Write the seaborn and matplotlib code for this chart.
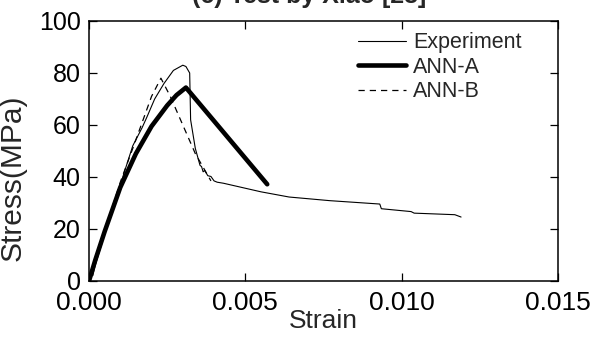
import matplotlib
matplotlib.use('Agg')
import matplotlib.pyplot as plt
import seaborn as sns

# values
exp_strain = [0.0, 0.00008, 0.00012, 0.0002, 0.0005, 0.001, 0.0014, 0.0017, 0.00185,
              0.0021, 0.0024, 0.0027, 0.0030, 0.0031, 0.00322, 0.00325, 0.0034,
              0.00355, 0.0036, 0.00365, 0.0037, 0.0038, 0.0039, 0.0040, 0.0041,
              0.0043, 0.0055, 0.0064, 0.0077, 0.0093, 0.00935, 0.0103, 0.0104,
              0.0117, 0.0119]
exp_stress = [0.0, 3.0, 2.0, 6.0, 18.0, 37.0, 52.0, 59.0, 63.0,
              70.0, 76.0, 81.0, 83.0, 82.5, 80.0, 62.0, 51.0,
              44.5, 44.0, 42.0, 42.5, 40.5, 40.2, 38.5, 38.0,
              37.6, 34.3, 32.3, 30.9, 29.6, 27.8, 26.7, 26.1,
              25.5, 24.6]

anna_strain = [0.0, 0.0002, 0.0005, 0.001, 0.0015, 0.002, 0.0025, 0.0028, 0.0031, 0.0057]
anna_stress = [0.0, 8.0, 19.0, 36.0, 49.0, 59.5, 67.5, 71.5, 74.4, 37.2]

annb_strain = [0.0, 0.0005, 0.001, 0.0014, 0.0017, 0.002, 0.0023, 0.0026, 0.003, 0.0034, 0.0039]
annb_stress = [0.0, 19.0, 38.0, 51.0, 61.0, 71.0, 78.0, 71.0, 60.0, 49.0, 38.5]

series_names = ['Experiment', 'ANN-A', 'ANN-B']
x_ticks = [0.000, 0.005, 0.010, 0.015]
y_ticks = [0, 20, 40, 60, 80, 100]

sns.set_style('ticks')
plt.rcParams['font.family'] = ['Liberation Sans', 'DejaVu Sans']

fig = plt.figure(figsize=(5.95, 3.37), dpi=100)
ax = fig.add_axes([89 / 595, 1 - 281 / 337, 469 / 595, 260 / 337])

sns.lineplot(x=exp_strain, y=exp_stress, ax=ax, sort=False, estimator=None,
             color='black', linewidth=0.8, label=series_names[0])
sns.lineplot(x=anna_strain, y=anna_stress, ax=ax, sort=False, estimator=None,
             color='black', linewidth=3.3, label=series_names[1])
sns.lineplot(x=annb_strain, y=annb_stress, ax=ax, sort=False, estimator=None,
             color='black', linewidth=0.9, linestyle=(0, (5, 4)), label=series_names[2])

ax.set_xlim(0, 0.015)
ax.set_ylim(0, 100)
ax.set_xticks(x_ticks)
ax.set_xticklabels([f'{v:.3f}' for v in x_ticks])
ax.set_yticks(y_ticks)
ax.tick_params(direction='in', length=5.5, width=0.9,
               top=True, right=True, colors='black')
ax.tick_params(axis='y', pad=6, labelsize=18)
ax.tick_params(axis='x', pad=7, labelsize=19)
for s in ax.spines.values():
    s.set_linewidth(1.1)
    s.set_color('black')

ax.set_xlabel('Strain', fontsize=19, labelpad=-4)
ax.set_ylabel('Stress(MPa)', fontsize=21.5)
ax.yaxis.set_label_coords(-0.133, 0.396)

ax.legend(loc='upper left', bbox_to_anchor=(0.5736, 0.957), frameon=False,
          fontsize=15.5, handlelength=2.25, handletextpad=0.3,
          borderpad=0, borderaxespad=0, labelspacing=0.17)

# title sits mostly above the top edge of the figure, as in the reference
fig.text(0.52, 1 - 3 / 337, '(c) Test by Xiao [28]', ha='center', va='baseline',
         fontsize=18, fontweight='bold')

fig.savefig('out.png', dpi=100)
